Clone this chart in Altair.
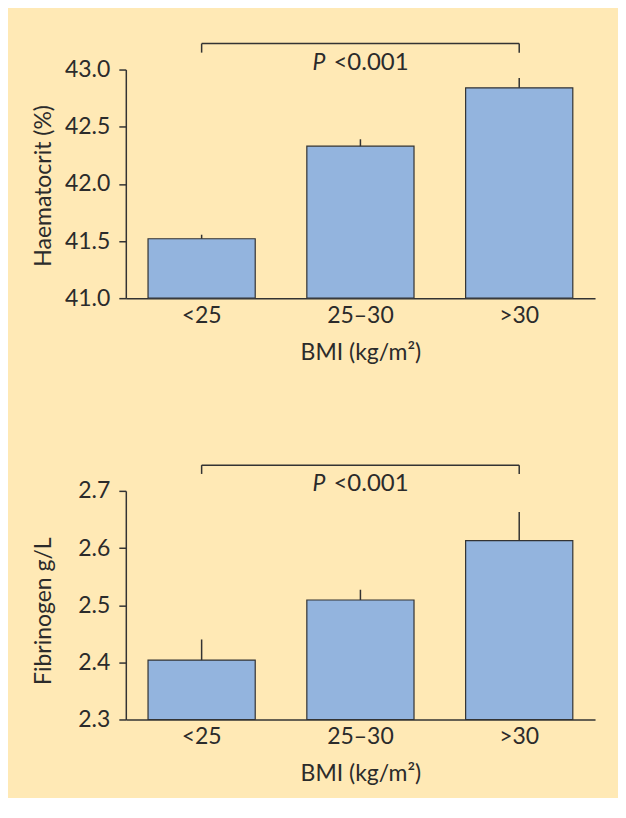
import altair as alt
import pandas as pd

categories = ["<25", "25–30", ">30"]
haematocrit = [41.52, 42.33, 42.84]
haematocrit_err = [0.035, 0.06, 0.085]
fibrinogen = [2.404, 2.509, 2.613]
fibrinogen_err = [0.036, 0.018, 0.05]
haem_ticks = [41.0, 41.5, 42.0, 42.5, 43.0]
fib_ticks = [2.3, 2.4, 2.5, 2.6, 2.7]
x_title = "BMI (kg/m²)"
p_text = "<0.001"

FONT = "Lato"
INK = "#2b2b2b"
BAR = "#93B4DE"
BG = "#FFE9B5"


def panel(values, errs, ymin, ymax, ticks, ytitle, br_top, br_bot, title_y):
    df = pd.DataFrame({
        "cat": categories,
        "v": values,
        "top": [v + e for v, e in zip(values, errs)],
        "base": [ymin] * len(values),
    })
    xs = alt.Scale(domain=categories, paddingInner=0.325, paddingOuter=0.14)
    x_axis = alt.Axis(title=x_title, labelAngle=0, ticks=False, tickSize=0,
                      labelPadding=6, titlePadding=14)
    ys = alt.Scale(domain=[ymin, ymax], nice=False, zero=False)
    y_axis = alt.Axis(values=ticks, format=".1f", title=ytitle,
                      titleX=-75, titleY=title_y, titleBaseline="alphabetic",
                      labelPadding=9)

    bars = alt.Chart(df).mark_bar(color=BAR, stroke="#333333", strokeWidth=1.2).encode(
        x=alt.X("cat:N", scale=xs, axis=x_axis, sort=categories),
        y=alt.Y("v:Q", scale=ys, axis=y_axis),
        y2="base:Q",
    )
    err = alt.Chart(df).mark_rule(color="#333333", strokeWidth=1.5).encode(
        x=alt.X("cat:N", sort=categories),
        y="v:Q",
        y2="top:Q",
    )
    br = pd.DataFrame({"cat": [categories[0]], "cat2": [categories[-1]],
                       "yt": [br_top], "yb": [br_bot]})
    ends = pd.DataFrame({"cat": [categories[0], categories[-1]],
                         "yt": [br_top, br_top], "yb": [br_bot, br_bot]})
    hline = alt.Chart(br).mark_rule(color="#333333", strokeWidth=1.5).encode(
        x=alt.X("cat:N", sort=categories), x2="cat2:N", y="yt:Q")
    vlines = alt.Chart(ends).mark_rule(color="#333333", strokeWidth=1.5).encode(
        x=alt.X("cat:N", sort=categories), y="yt:Q", y2="yb:Q")
    lab = pd.DataFrame({"cat": [categories[1]], "y": [ymax], "p": ["P"], "t": [p_text]})
    ptxt = alt.Chart(lab).mark_text(font=FONT, fontSize=23, fontStyle="italic", color=INK,
                                     align="right", baseline="alphabetic", dx=-35).encode(
        x=alt.X("cat:N", sort=categories), y="y:Q", text="p:N")
    vtxt = alt.Chart(lab).mark_text(font=FONT, fontSize=24, color=INK,
                                     align="left", baseline="alphabetic", dx=-27).encode(
        x=alt.X("cat:N", sort=categories), y="y:Q", text="t:N")
    return alt.layer(bars, err, hline, vlines, ptxt, vtxt).properties(width=470, height=229)


top = panel(haematocrit, haematocrit_err, 41.0, 43.0, haem_ticks, "Haematocrit (%)",
            43.227, 43.148, 116)
bottom = panel(fibrinogen, fibrinogen_err, 2.3, 2.7, fib_ticks, "Fibrinogen g/L",
               2.745, 2.7296, 120)

chart = alt.vconcat(top, bottom, spacing=100).properties(
    padding={"left": 24, "top": 34, "right": 23, "bottom": 12},
    background=BG,
).configure_view(stroke=None).configure_axis(
    domainColor="#333333", domainWidth=1.5, tickColor="#333333", tickWidth=1.5,
    tickSize=7, grid=False, labelFont=FONT, labelFontSize=23, labelColor=INK,
    titleFont=FONT, titleFontSize=23, titleFontWeight="normal", titleColor=INK,
)

chart.save("out.html", embed_options={"renderer": "svg", "actions": False})
